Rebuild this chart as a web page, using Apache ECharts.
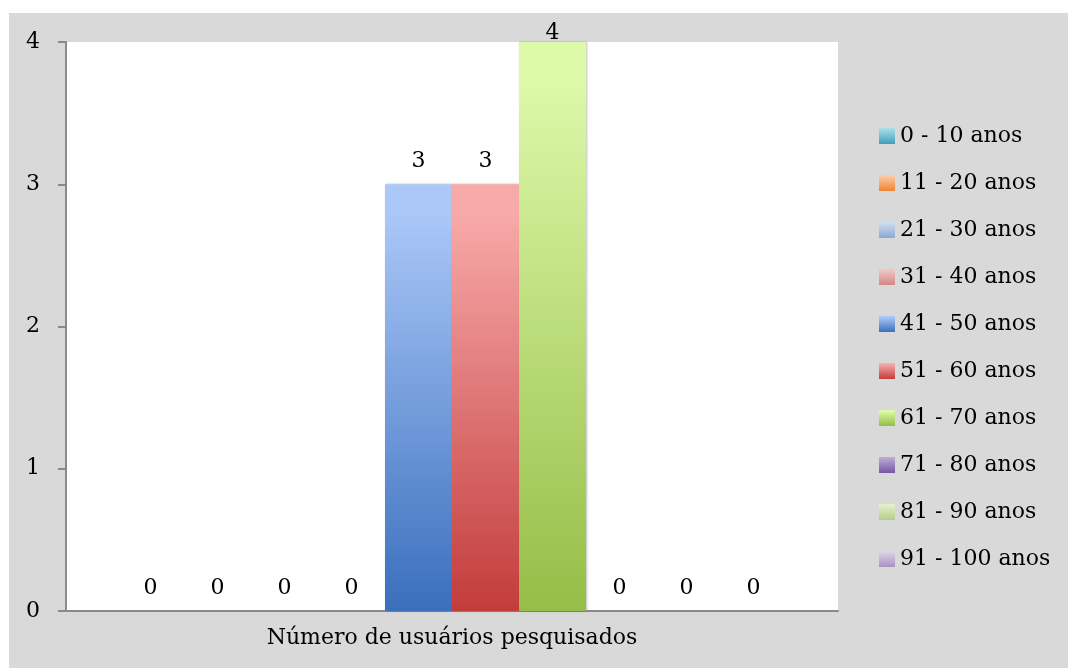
<!DOCTYPE html>
<html>
<head>
<meta charset="utf-8">
<script src="https://cdn.jsdelivr.net/npm/echarts@6/dist/echarts.min.js"></script>
<style>
  html, body { margin: 0; padding: 0; background: #fff; }
  #faixaEtaria { position: absolute; left: 9px; top: 13px; width: 1059px; height: 655px; background: #d9d9d9; }
</style>
</head>
<body>
<div id="faixaEtaria"></div>
<script>
// dados
const categorias = ['Número de usuários pesquisados'];
const faixas = ['0 - 10 anos', '11 - 20 anos', '21 - 30 anos', '31 - 40 anos', '41 - 50 anos',
                '51 - 60 anos', '61 - 70 anos', '71 - 80 anos', '81 - 90 anos', '91 - 100 anos'];
const usuarios = [0, 0, 0, 0, 3, 3, 4, 0, 0, 0];
const yTicks = [0, 1, 2, 3, 4];

// cores (topo claro, base escura)
const coresTopo = ['#a9dbe8', '#fccba3', '#cfdcee', '#f2c6c5', '#abc8f8', '#f8aaaa', '#ddf9aa', '#bca9d3', '#e3efcc', '#dcd1e6'];
const coresBase = ['#3f9fb9', '#ec8434', '#89a8d2', '#d08886', '#3a6fbd', '#c33c3c', '#96bd47', '#7258a0', '#b6cd88', '#a893c1'];
const fonte = 'DejaVu Serif';
const yMax = yTicks[yTicks.length - 1];

let chart = echarts.init(document.getElementById('faixaEtaria'));

let series = [];
for (let i = 0; i < faixas.length; i++) {
    series.push({
        name: faixas[i],
        type: 'bar',
        barGap: 0,
        barCategoryGap: '13.2%',
        data: [usuarios[i]],
        itemStyle: {
            color: new echarts.graphic.LinearGradient(0, 0, 0, 1, [
                { offset: 0, color: coresTopo[i] },
                { offset: 0.06, color: coresTopo[i] },
                { offset: 1, color: coresBase[i] }
            ]),
            shadowColor: 'rgba(0,0,0,0.25)',
            shadowBlur: 2,
            shadowOffsetX: 1
        },
        label: {
            show: true,
            position: 'top',
            // o rótulo do valor máximo fica colado ao topo, como no original
            distance: usuarios[i] >= yMax ? -2 : 12,
            color: '#000',
            fontFamily: fonte,
            fontSize: 22
        }
    });
}

const option = {
    animation: false,
    legend: {
        orient: 'vertical',
        left: 865,
        top: 107,
        itemWidth: 16,
        itemHeight: 16,
        itemGap: 25,
        icon: 'rect',
        textStyle: { color: '#000', fontFamily: fonte, fontSize: 22 },
        data: faixas
    },
    grid: {
        left: 57,
        top: 29,
        right: 230,
        bottom: 57,
        show: true,
        backgroundColor: '#fff',
        borderWidth: 0
    },
    xAxis: {
        type: 'category',
        data: categorias,
        axisLine: { lineStyle: { color: '#8a8a8a', width: 2 } },
        axisTick: { show: false },
        axisLabel: { color: '#000', fontFamily: fonte, fontSize: 22, margin: 16 }
    },
    yAxis: {
        type: 'value',
        min: yTicks[0],
        max: yMax,
        interval: 1,
        splitLine: { show: false },
        axisLine: { show: true, lineStyle: { color: '#8a8a8a', width: 2 } },
        axisTick: { show: true, length: 8, lineStyle: { color: '#8a8a8a', width: 2 } },
        axisLabel: { color: '#000', fontFamily: fonte, fontSize: 22, margin: 26 }
    },
    series: series
};

chart.setOption(option);
</script>
</body>
</html>
